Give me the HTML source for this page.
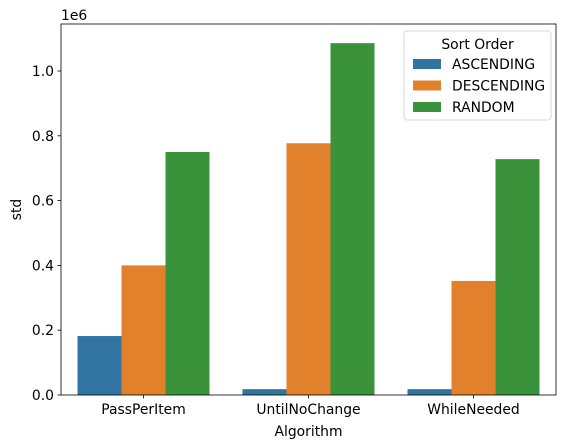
<!DOCTYPE html>
<html><head><meta charset="utf-8"><style>
body{margin:0;background:#fff;}
svg{display:block;font-family:"DejaVu Sans","Liberation Sans",sans-serif;}
</style></head><body>
<svg id="chart" width="567" height="448">
<g id="marks"></g>
<g id="axes"></g>
</svg>
<script>
const categories=["PassPerItem","UntilNoChange","WhileNeeded"];
const seriesNames=["ASCENDING","DESCENDING","RANDOM"];
const ascending=[0.182e6,0.018e6,0.018e6];
const descending=[0.400e6,0.777e6,0.352e6];
const random=[0.750e6,1.086e6,0.728e6];
const yTicks=[0,0.2e6,0.4e6,0.6e6,0.8e6,1.0e6];
const yTickLabels=["0.0","0.2","0.4","0.6","0.8","1.0"];
const colors=["#3274a1","#e1812c","#3a923a"];
const series=[ascending,descending,random];
const L=61,R=556,T=24,B=395;
const FS=13.9;
const NS="http://www.w3.org/2000/svg";
function y(v){return B-v/1e6*324;}
function xc(i){return L+(i+0.5)*(R-L)/categories.length;}
const bw=(R-L)/categories.length*0.8/seriesNames.length;
function mk(tag,attrs,parent){const e=document.createElementNS(NS,tag);for(const k in attrs)e.setAttribute(k,attrs[k]);parent.appendChild(e);return e;}
const marks=document.getElementById('marks'),axes=document.getElementById('axes'),svg=document.getElementById('chart');
series.forEach((s,si)=>s.forEach((v,ci)=>{
 const x0=xc(ci)-1.5*bw+si*bw;
 const r=mk('rect',{x:x0,y:y(v),width:bw,height:B-y(v),fill:colors[si]},marks);
 
 
}));
const frame=mk('rect',{x:L,y:T,width:R-L,height:B-T,fill:'none',stroke:'#000','stroke-width':0.8},axes);


yTicks.forEach((t,i)=>{
 mk('line',{x1:L-3.5,x2:L,y1:y(t),y2:y(t),stroke:'#000','stroke-width':0.8},axes);
 const tx=mk('text',{x:L-7,y:y(t)+5,'text-anchor':'end','font-size':FS},axes);
 tx.textContent=yTickLabels[i];
 
 
});
categories.forEach((c,i)=>{
 mk('line',{x1:xc(i),x2:xc(i),y1:B,y2:B+3.5,stroke:'#000','stroke-width':0.8},axes);
 const tx=mk('text',{x:xc(i),y:B+19,'text-anchor':'middle','font-size':FS},axes);
 tx.textContent=c;
 
 
});
let t=mk('text',{x:(L+R)/2,y:436,'text-anchor':'middle','font-size':FS},axes);t.textContent='Algorithm';


t=mk('text',{x:21,y:(T+B)/2,'text-anchor':'middle','font-size':FS,transform:'rotate(-90 21 '+(T+B)/2+')'},axes);t.textContent='std';


t=mk('text',{x:L,y:20,'font-size':FS},axes);t.textContent='1e6';


const lg=mk('g',{},svg);


mk('rect',{x:404,y:31,width:147,height:89,rx:3,fill:'#fff','fill-opacity':0.8,stroke:'#ccc','stroke-width':0.8},lg);
t=mk('text',{x:477.5,y:49,'text-anchor':'middle','font-size':FS},lg);t.textContent='Sort Order';


seriesNames.forEach((n,i)=>{
 const yy=64+i*21.5;
 const g=mk('g',{},lg);
 
 
 mk('rect',{x:413,y:yy-5,width:28,height:10,fill:colors[i]},g);
 const tx=mk('text',{x:452,y:yy+5,'font-size':FS},g);tx.textContent=n;
});
</script>
</body></html>
